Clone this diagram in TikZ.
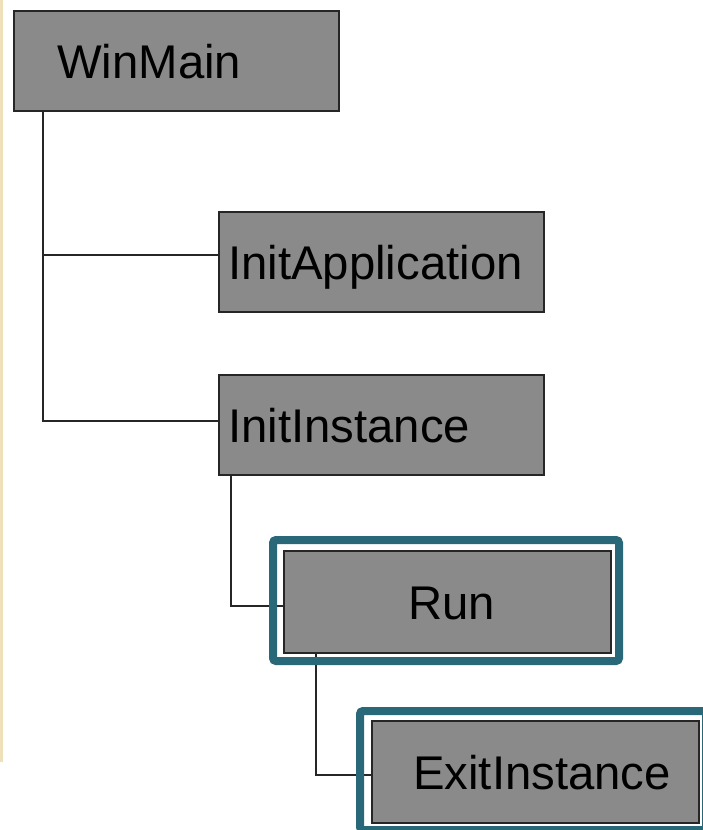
\documentclass[tikz,border=0pt]{standalone}
\usepackage{fontspec}
\setmainfont{Liberation Sans}
\usetikzlibrary{positioning}
\definecolor{boxgray}{RGB}{138,138,138}
\definecolor{frameteal}{RGB}{40,104,120}
\definecolor{edgetan}{RGB}{238,224,184}
\tikzset{
    box/.style = {
        draw = black!85,
        line width = 2pt,
        fill = boxgray,
        minimum width = 325pt,
        minimum height = 100pt,
        anchor = north west,
        inner sep = 0pt,
        },
    big box/.style = {
        minimum width = 327pt,
        minimum height = 102pt,
        },
    lbl/.style = {
        font = \fontsize{47.3pt}{52pt}\selectfont,
        inner sep = 0pt,
        text height = 34pt,
        text depth = 0pt,
        },
    link/.style = {
        draw = black!85,
        line width = 2pt,
        },
    frame/.style = {
        draw = frameteal,
        line width = 8pt,
        rounded corners = 3pt,
        },
}
\begin{document}
\begin{tikzpicture}[x=1pt, y=-1pt]
            \path[use as bounding box] (0,0) rectangle (703,830);
            \clip (0,0) rectangle (703,830);
            \draw[edgetan, line width=3pt] (1,0) -- (1,762);

            \node[box] (winmain) at (13,10) {};
            \node[box] (initapp) at (218,211) {};
            \node[box] (initinst) at (218,374) {};
            \node[box, big box] (run) at (283,550) {};
            \node[box, big box] (exit) at (371,720) {};

            \draw[link] ([xshift=30pt]winmain.south west) |- ([yshift=7pt]initapp.west);
            \draw[link] ([xshift=30pt]winmain.south west) |- ([yshift=4pt]initinst.west);
            \draw[link] ([xshift=13pt]initinst.south west) |- ([yshift=-4pt]run.west);
            \draw[link] ([xshift=33pt]run.south west) |- ([yshift=-3pt]exit.west);

            \node[lbl, right=44pt of winmain.west] (winmain-t) {WinMain};
            \node[lbl, right=10pt of initapp.west] (initapp-t) {InitApplication};
            \node[lbl, right=10pt of initinst.west] (initinst-t) {InitInstance};
            \node[lbl, xshift=4pt] (run-t) at (run.center) {Run};
            \node[lbl, right=42pt of exit.west] (exit-t) {ExitInstance};

            \draw[frame] ([shift={(-10pt,10pt)}]run.north west) rectangle ([shift={(7pt,-7pt)}]run.south east);
            \draw[frame] ([shift={(-11pt,9pt)}]exit.north west) rectangle ([shift={(6pt,-6pt)}]exit.south east);
        \end{tikzpicture}
\end{document}
